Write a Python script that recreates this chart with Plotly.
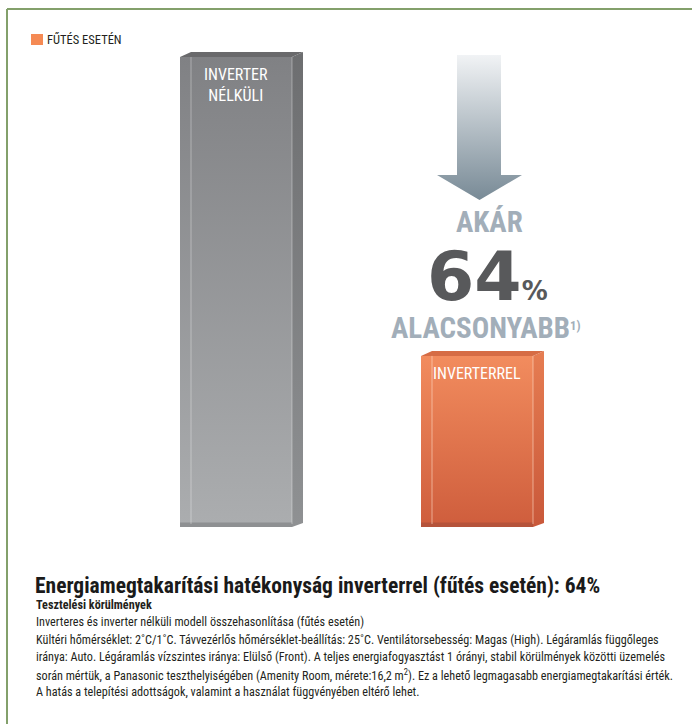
import plotly.graph_objects as go

# ---------------- data ----------------
categories = ["INVERTER<br>NÉLKÜLI", "INVERTERREL"]
values = [100, 36]          # relative energy use (non-inverter = 100)
legend_label = "FŰTÉS ESETÉN"
up_to_label = "AKÁR"
lower_label = "ALACSONYABB"
footnote_mark = "1)"
title_text = "Energiamegtakarítási hatékonyság inverterrel (fűtés esetén): {p}%"
sub_title = "Tesztelési körülmények"
body_lines = [
    "Inverteres és inverter nélküli modell összehasonlítása (fűtés esetén)",
    "Kültéri hőmérséklet: 2˚C/1˚C. Távvezérlős hőmérséklet-beállítás: 25˚C. Ventilátorsebesség: Magas (High). Légáramlás függőleges",
    "iránya: Auto. Légáramlás vízszintes iránya: Elülső (Front). A teljes energiafogyasztást 1 órányi, stabil körülmények közötti üzemelés",
    "során mértük, a Panasonic teszthelyiségében (Amenity Room, mérete:16,2 m<sup>2</sup>). Ez a lehető legmagasabb energiamegtakarítási érték.",
    "A hatás a telepítési adottságok, valamint a használat függvényében eltérő lehet.",
]

saving = round(100 * (values[0] - values[1]) / values[0])

# ---------------- layout helpers ----------------
W, H = 692, 724
X0_PX, CAT_PX = 236, 241
BASE_PX, UNIT_PX = 524, 4.67
BAR_W = 112 / CAT_PX
DX = 11 / CAT_PX
DY = 5 / UNIT_PX

NARROW = "Roboto Condensed, Open Sans, sans-serif"

def px_x(px):
    return (px - X0_PX) / CAT_PX

def px_y(py):
    return (BASE_PX - py) / UNIT_PX

def pap_x(px):
    return px / W

def pap_y(py):
    return 1 - py / H

styles = [
    dict(top="#808184", bottom="#abadaf", side_top="#6d6e70", side_bottom="#8f9193",
         cap="#69696b", strip="#8e9092", edge="rgba(255,255,255,0.35)"),
    dict(top="#f28c5e", bottom="#cf5e3d", side_top="#e67d52", side_bottom="#c9583a",
         cap="#d66c45", strip="#b5533a", edge="rgba(255,220,200,0.6)"),
]

fig = go.Figure()

xpos = list(range(len(values)))
fig.add_trace(go.Bar(
    x=xpos, y=values, width=BAR_W,
    marker=dict(color=[s["bottom"] for s in styles], line=dict(width=0)),
    hoverinfo="skip", showlegend=False,
))

shapes = []
for i, v in enumerate(values):
    s = styles[i]
    xl, xr = i - BAR_W / 2, i + BAR_W / 2
    # gradient front face
    fig.add_trace(go.Scatter(
        x=[xl, xr, xr, xl, xl], y=[0, 0, v, v, 0], mode="lines",
        line=dict(width=0), fill="toself",
        fillgradient=dict(type="vertical", colorscale=[[0, s["bottom"]], [1, s["top"]]]),
        hoverinfo="skip", showlegend=False,
    ))
    # right side face
    fig.add_trace(go.Scatter(
        x=[xr, xr + DX, xr + DX, xr, xr], y=[v, v + DY, DY * 0.2, -DY * 0.6, v], mode="lines",
        line=dict(width=0), fill="toself",
        fillgradient=dict(type="vertical", colorscale=[[0, s["side_bottom"]], [1, s["side_top"]]]),
        hoverinfo="skip", showlegend=False,
    ))
    # top face
    shapes.append(dict(
        type="path", xref="x", yref="y", layer="above",
        path=f"M {xl},{v} L {xl + DX},{v + DY} L {xr + DX},{v + DY} L {xr},{v} Z",
        fillcolor=s["cap"], line=dict(width=0),
    ))
    # bottom strip
    shapes.append(dict(
        type="rect", xref="x", yref="y", layer="above",
        x0=xl, x1=xr, y0=-DY * 0.6, y1=DY * 0.3,
        fillcolor=s["strip"], line=dict(width=0),
    ))
    # light edges
    shapes.append(dict(type="line", xref="x", yref="y", layer="above",
                       x0=xr, x1=xr, y0=0, y1=v, line=dict(color=s["edge"], width=1)))
    shapes.append(dict(type="line", xref="x", yref="y", layer="above",
                       x0=xl + DX, x1=xl + DX, y0=0, y1=v, line=dict(color=s["edge"], width=1)))

# arrow (decoration)
arrow_px = [(457, 55), (501, 55), (501, 175), (522, 175), (479.5, 200), (437, 175), (457, 175), (457, 55)]
fig.add_trace(go.Scatter(
    x=[px_x(a) for a, _ in arrow_px], y=[px_y(b) for _, b in arrow_px], mode="lines",
    line=dict(width=0), fill="toself",
    fillgradient=dict(type="vertical", colorscale=[[0, "#788a96"], [1, "#f1f3f5"]]),
    hoverinfo="skip", showlegend=False,
))

def pann(px, py, text, font, xanchor="center", **kw):
    d = dict(x=pap_x(px), y=pap_y(py), xref="paper", yref="paper",
             xanchor=xanchor, yanchor="middle", text=text, showarrow=False, font=font)
    d.update(kw)
    return d

annotations = []
# bar labels
for i, (c, v) in enumerate(zip(categories, values)):
    annotations.append(dict(
        x=i, y=v, xref="x", yref="y", yanchor="top", xanchor="center", yshift=-6,
        text=c, showarrow=False, font=dict(family=NARROW, size=16, color="white"),
    ))

annotations += [
    pann(489, 222, f"<b>{up_to_label}</b>", dict(family=NARROW, size=29, color="#a2aeb9")),
    pann(487, 276, f"<b>{saving}<span style='font-size:26px'>%</span></b>",
         dict(family="DejaVu Sans", size=68, color="#58595b"), height=60, valign="middle"),
    pann(485, 328, f"<b>{lower_label}<span style='font-size:18px'><sup>{footnote_mark}</sup></span></b>",
         dict(family=NARROW, size=29, color="#a2aeb9")),
    pann(45, 39, legend_label, dict(family=NARROW, size=12.5, color="#231f20"), "left"),
    pann(33, 585, f"<b>{title_text.format(p=saving)}</b>", dict(family=NARROW, size=21.5, color="#1a1a1a"), "left"),
    pann(34, 605, f"<b>{sub_title}</b>", dict(family=NARROW, size=12.2, color="#231f20"), "left"),
]
for k, line in enumerate(body_lines):
    annotations.append(pann(34, 622 + 17.5 * k, line, dict(family=NARROW, size=12.2, color="#231f20"), "left"))

# frame + legend swatch
shapes += [
    dict(type="line", xref="paper", yref="paper", x0=pap_x(7), x1=1, y0=pap_y(9), y1=pap_y(9),
         line=dict(color="#83a06b", width=2)),
    dict(type="line", xref="paper", yref="paper", x0=pap_x(7), x1=pap_x(7), y0=pap_y(9), y1=0,
         line=dict(color="#83a06b", width=2)),
    dict(type="rect", xref="paper", yref="paper", x0=pap_x(31), x1=pap_x(43), y0=pap_y(45), y1=pap_y(34),
         fillcolor="#f58a54", line=dict(width=0)),
]

fig.update_layout(
    width=W, height=H, margin=dict(l=0, r=0, t=0, b=0),
    paper_bgcolor="white", plot_bgcolor="white",
    xaxis=dict(range=[px_x(0), px_x(W)], visible=False, fixedrange=True),
    yaxis=dict(range=[px_y(H), px_y(0)], visible=False, fixedrange=True),
    shapes=shapes, annotations=annotations, hovermode=False, showlegend=False,
)

fig.write_html("out.html", config={"displayModeBar": False},
               post_script="document.body.style.margin='0px';")
